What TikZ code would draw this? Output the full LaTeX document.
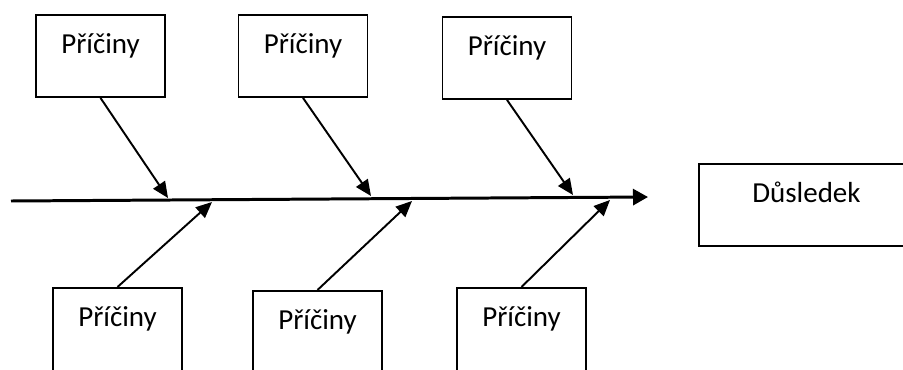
\documentclass[tikz,border=0pt]{standalone}
\usepackage{fontspec}
\setmainfont{Carlito}
\usetikzlibrary{arrows.meta}
\tikzset{
    cause/.style={draw, line width=1.1pt, inner sep=0pt, anchor=north,
        minimum width=2.58cm, text height=0.78cm, text depth=0.86cm,
        font=\fontsize{16.5}{20}\selectfont},
    bone/.style={line width=1.1pt, -{Triangle[length=0.32cm,width=0.28cm]}},
    spine/.style={line width=1.7pt, -{Triangle[length=0.3cm,width=0.32cm]}}
}

\begin{document}
\begin{tikzpicture}[x=0.02cm,y=-0.02cm]
    \useasboundingbox (0,0) rectangle (903,369);
    \clip (0,0) rectangle (903,369);
    \coordinate (tail) at (11,201);
    \coordinate (head) at (648,197);
    \draw[spine] (tail) -- (head);
    \foreach \n/\x/\y in {1/100.5/14, 2/303/14, 3/507/16}
        \node[cause] (top\n) at (\x,\y) {Příčiny};
    \foreach \n/\x/\y in {1/117.5/287, 2/317.5/290, 3/521.5/287}
        \node[cause, text depth=1.1cm] (bot\n) at (\x,\y) {Příčiny};
    \node[cause, anchor=north west, minimum width=4.3cm] (effect) at (698,163) {Důsledek};
    \foreach \n/\x/\y in {1/168/198, 2/371/196, 3/573/195} {
        \coordinate (up\n) at (\x,\y);
        \draw[bone] (top\n.south) -- (up\n);
    }
    \foreach \n/\x/\y in {1/212/202, 2/412/201, 3/610/200} {
        \coordinate (lo\n) at (\x,\y);
        \draw[bone] (bot\n.north) -- (lo\n);
    }
\end{tikzpicture}
\end{document}
